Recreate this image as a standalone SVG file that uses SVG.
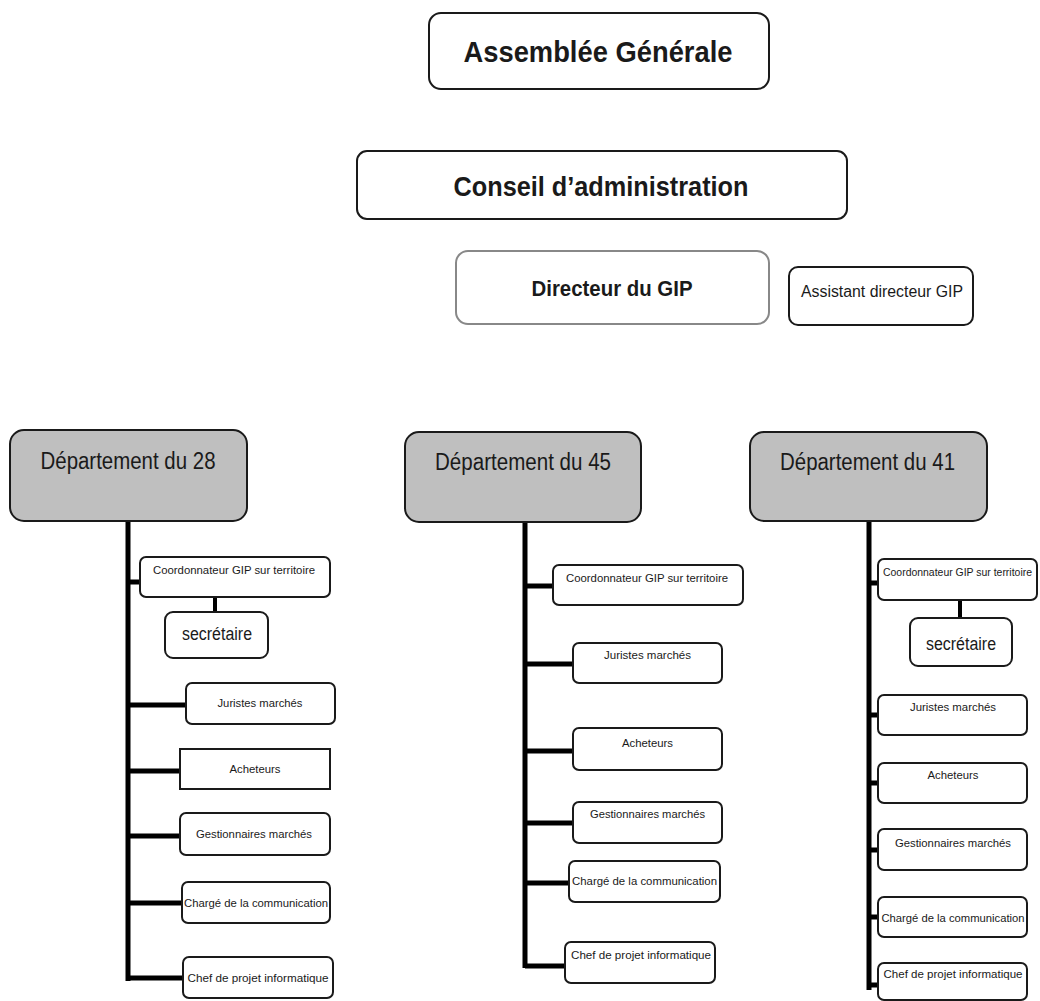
<svg xmlns="http://www.w3.org/2000/svg" width="1040" height="1001" viewBox="0 0 1040 1001">
<style>
.bx{fill:#fff;stroke:#1a1a1a;stroke-width:2}
.dp{fill:#bfbfbf;stroke:#1a1a1a;stroke-width:2}
.t{font-family:"Liberation Sans",Arial,sans-serif;fill:#1a1a1a;text-anchor:middle}
.b{font-weight:bold}
.s{font-size:11.5px}
.c{stroke:#000;stroke-width:5;fill:none}
.c2{stroke:#000;stroke-width:4;fill:none}
</style>
<rect width="1040" height="1001" fill="#fff"/>
<g id="connectors">
<path class="c" d="M128 521V981 M128 582H140 M128 705H186 M128 771H180 M128 836H180 M128 903H182 M128 978H183"/>
<path class="c2" d="M215 597V612"/>
<path class="c" d="M525 522V968 M525 586H553 M525 664H573 M525 751H573 M525 823H573 M525 883H569 M525 966H565"/>
<path class="c" d="M869 521V990 M869 583H878 M869 715H878 M869 783H878 M869 850H878 M869 917H878 M869 985H878"/>
<path class="c2" d="M960 600V618"/>
</g>
<g id="assemblee"><rect class="bx" x="429" y="13" width="340" height="76" rx="12" stroke="#333"/><text class="t b" x="598" y="62" font-size="30" textLength="269" lengthAdjust="spacingAndGlyphs">Assemblée Générale</text></g>
<g id="conseil"><rect class="bx" x="357" y="151" width="490" height="68" rx="10"/><text class="t b" x="601" y="196" font-size="27" textLength="295" lengthAdjust="spacingAndGlyphs">Conseil d’administration</text></g>
<g id="directeur"><rect class="bx" x="456" y="251" width="313" height="73" rx="12" style="stroke:#888"/><text class="t b" x="612" y="296" font-size="22" textLength="161" lengthAdjust="spacingAndGlyphs">Directeur du GIP</text></g>
<g id="assistant"><rect class="bx" x="789" y="267" width="184" height="58" rx="9"/><text class="t" x="882" y="297" font-size="16" textLength="162" lengthAdjust="spacingAndGlyphs">Assistant directeur GIP</text></g>

<g id="dep28"><rect class="dp" x="10" y="430" width="237" height="91" rx="14"/><text class="t" x="128" y="469" font-size="23" textLength="175" lengthAdjust="spacingAndGlyphs">Département du 28</text></g>
<g id="coord28"><rect class="bx" x="140" y="557" width="190" height="40" rx="6"/><text class="t s" x="234" y="574" textLength="162" lengthAdjust="spacingAndGlyphs">Coordonnateur GIP sur  territoire</text></g>
<g id="sec28"><rect class="bx" x="165" y="612" width="103" height="46" rx="8"/><text class="t" x="217" y="640" font-size="18" textLength="70" lengthAdjust="spacingAndGlyphs">secrétaire</text></g>
<g id="jur28"><rect class="bx" x="186" y="683" width="149" height="41" rx="6"/><text class="t s" x="260" y="707" textLength="85" lengthAdjust="spacingAndGlyphs">Juristes  marchés</text></g>
<g id="ach28"><rect class="bx" x="180" y="749" width="150" height="40"/><text class="t s" x="255" y="773" textLength="51" lengthAdjust="spacingAndGlyphs">Acheteurs</text></g>
<g id="ges28"><rect class="bx" x="180" y="813" width="150" height="42" rx="6"/><text class="t s" x="254" y="838" textLength="116" lengthAdjust="spacingAndGlyphs">Gestionnaires marchés</text></g>
<g id="cha28"><rect class="bx" x="182" y="882" width="148" height="41" rx="6"/><text class="t s" x="256" y="907" textLength="144" lengthAdjust="spacingAndGlyphs">Chargé de la communication</text></g>
<g id="chef28"><rect class="bx" x="183" y="957" width="150" height="41" rx="6"/><text class="t s" x="258" y="982" textLength="141" lengthAdjust="spacingAndGlyphs">Chef de projet informatique</text></g>

<g id="dep45"><rect class="dp" x="405" y="432" width="236" height="90" rx="14"/><text class="t" x="523" y="470" font-size="23" textLength="176" lengthAdjust="spacingAndGlyphs">Département du 45</text></g>
<g id="coord45"><rect class="bx" x="553" y="565" width="190" height="40" rx="6"/><text class="t s" x="647" y="582" textLength="162" lengthAdjust="spacingAndGlyphs">Coordonnateur GIP sur  territoire</text></g>
<g id="jur45"><rect class="bx" x="573" y="643" width="149" height="40" rx="6"/><text class="t s" x="647.5" y="659" textLength="87" lengthAdjust="spacingAndGlyphs">Juristes  marchés</text></g>
<g id="ach45"><rect class="bx" x="573" y="728" width="149" height="42" rx="6"/><text class="t s" x="647.5" y="747" textLength="51" lengthAdjust="spacingAndGlyphs">Acheteurs</text></g>
<g id="ges45"><rect class="bx" x="573" y="802" width="149" height="41" rx="6"/><text class="t s" x="647.5" y="818" textLength="115" lengthAdjust="spacingAndGlyphs">Gestionnaires marchés</text></g>
<g id="cha45"><rect class="bx" x="569" y="861" width="151" height="41" rx="6"/><text class="t s" x="644.5" y="885" textLength="145" lengthAdjust="spacingAndGlyphs">Chargé de la communication</text></g>
<g id="chef45"><rect class="bx" x="565" y="942" width="150" height="41" rx="6"/><text class="t s" x="641" y="959" textLength="140" lengthAdjust="spacingAndGlyphs">Chef de projet informatique</text></g>

<g id="dep41"><rect class="dp" x="750" y="432" width="237" height="89" rx="14"/><text class="t" x="867.5" y="470" font-size="23" textLength="175" lengthAdjust="spacingAndGlyphs">Département du 41</text></g>
<g id="coord41"><rect class="bx" x="878" y="559" width="159" height="41" rx="6"/><text class="t" x="957.5" y="576" font-size="10" textLength="149" lengthAdjust="spacingAndGlyphs">Coordonnateur GIP sur  territoire</text></g>
<g id="sec41"><rect class="bx" x="910" y="618" width="102" height="48" rx="8"/><text class="t" x="961" y="650" font-size="18" textLength="70" lengthAdjust="spacingAndGlyphs">secrétaire</text></g>
<g id="jur41"><rect class="bx" x="878" y="695" width="149" height="40" rx="6"/><text class="t s" x="953" y="711" textLength="86" lengthAdjust="spacingAndGlyphs">Juristes  marchés</text></g>
<g id="ach41"><rect class="bx" x="878" y="763" width="149" height="40" rx="6"/><text class="t s" x="953" y="779" textLength="51" lengthAdjust="spacingAndGlyphs">Acheteurs</text></g>
<g id="ges41"><rect class="bx" x="878" y="829" width="149" height="41" rx="6"/><text class="t s" x="953" y="847" textLength="116" lengthAdjust="spacingAndGlyphs">Gestionnaires marchés</text></g>
<g id="cha41"><rect class="bx" x="878" y="897" width="149" height="40" rx="6"/><text class="t s" x="953" y="922" textLength="143" lengthAdjust="spacingAndGlyphs">Chargé de la communication</text></g>
<g id="chef41"><rect class="bx" x="878" y="963" width="149" height="37" rx="6"/><text class="t s" x="953" y="978" textLength="139" lengthAdjust="spacingAndGlyphs">Chef de projet informatique</text></g>
</svg>
